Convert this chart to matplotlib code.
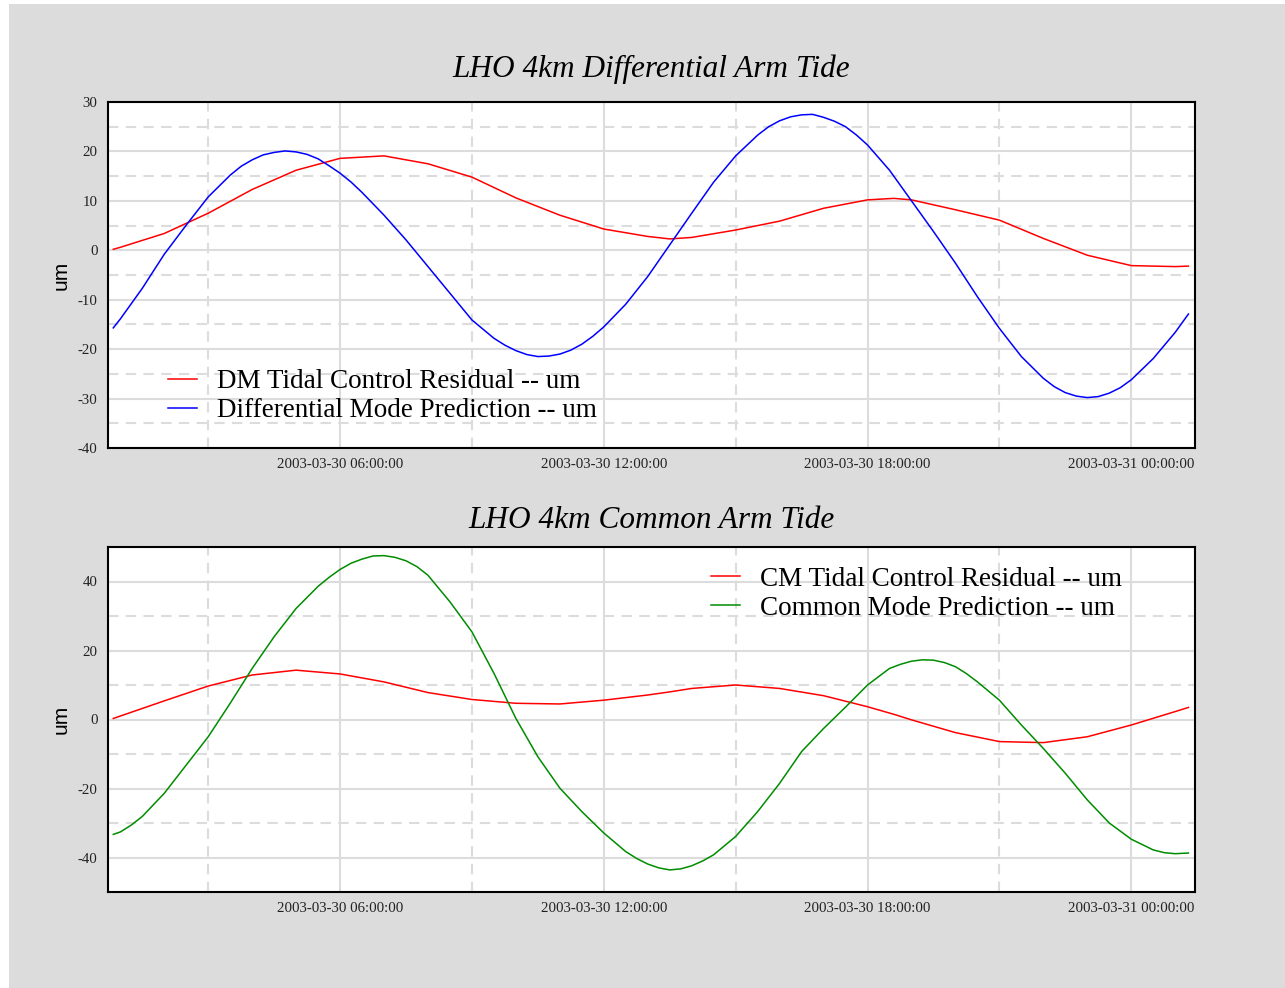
import datetime as dt

import matplotlib
matplotlib.use("Agg")
import matplotlib.pyplot as plt
import matplotlib.dates as mdates
from matplotlib.patches import Rectangle

plt.rcParams["axes.unicode_minus"] = False

# time axis: hours after 2003-03-30 00:00
t0 = dt.datetime(2003, 3, 30, 0, 0, 0)

hours_dm_pred = [0.84, 1.0, 1.5, 2.0, 2.5, 3.0, 3.5, 3.75, 4.0, 4.25, 4.5, 4.75, 5.0,
                 5.25, 5.5, 5.75, 6.0, 6.25, 6.5, 7.0, 7.5, 8.0, 8.5, 9.0, 9.5, 9.75,
                 10.0, 10.25, 10.5, 10.75, 11.0, 11.25, 11.5, 11.75, 12.0, 12.5,
                 13.0, 13.5, 14.0, 14.5, 15.0, 15.5, 15.75, 16.0, 16.25, 16.5,
                 16.75, 17.0, 17.25, 17.5, 17.75, 18.0, 18.5, 19.0, 19.5, 20.0,
                 20.5, 21.0, 21.5, 22.0, 22.25, 22.5, 22.75, 23.0, 23.25, 23.5,
                 23.75, 24.0, 24.5, 25.0, 25.3]
dm_pred = [-15.7, -13.9, -7.7, -0.8, 5.1, 10.8, 15.2, 17.0, 18.3, 19.3, 19.8, 20.1,
           19.9, 19.4, 18.5, 17.1, 15.6, 13.8, 11.7, 7.1, 2.1, -3.3, -8.7, -14.1,
           -17.8, -19.2, -20.3, -21.1, -21.5, -21.4, -21.0, -20.2, -19.0, -17.4,
           -15.5, -10.9, -5.3, 1.1, 7.5, 13.8, 19.1, 23.3, 25.0, 26.2, 27.0, 27.4,
           27.5, 26.9, 26.1, 25.0, 23.3, 21.3, 16.2, 10.0, 3.8, -2.6, -9.4, -15.8,
           -21.5, -25.9, -27.6, -28.8, -29.5, -29.8, -29.6, -28.9, -27.8, -26.2,
           -21.9, -16.6, -12.9]

hours_cm_pred = [0.84, 1.0, 1.25, 1.5, 2.0, 2.5, 3.0, 3.5, 4.0, 4.5, 5.0, 5.5, 5.75,
                 6.0, 6.25, 6.5, 6.75, 7.0, 7.25, 7.5, 7.75, 8.0, 8.5, 9.0, 9.5,
                 10.0, 10.5, 11.0, 11.5, 12.0, 12.5, 12.75, 13.0, 13.25, 13.5,
                 13.75, 14.0, 14.25, 14.5, 15.0, 15.5, 16.0, 16.5, 17.0, 17.5,
                 18.0, 18.5, 18.75, 19.0, 19.25, 19.5, 19.75, 20.0, 20.25, 20.5,
                 21.0, 21.5, 22.0, 22.5, 23.0, 23.5, 24.0, 24.5, 24.75, 25.0, 25.3]
cm_pred = [-33.3, -32.6, -30.6, -28.1, -21.4, -13.2, -5.0, 4.7, 14.8, 24.0, 32.2,
           38.6, 41.2, 43.5, 45.3, 46.5, 47.4, 47.5, 47.0, 46.0, 44.3, 41.8, 34.1,
           25.4, 13.4, 0.3, -10.8, -19.9, -26.7, -32.9, -38.3, -40.3, -41.9,
           -43.0, -43.6, -43.3, -42.4, -41.0, -39.2, -33.9, -26.7, -18.5, -9.3,
           -2.6, 3.6, 10.0, 14.8, 16.0, 16.9, 17.3, 17.2, 16.5, 15.3, 13.3, 10.9,
           5.6, -1.6, -8.4, -15.6, -23.3, -30.0, -34.7, -37.8, -38.6, -38.9, -38.7]

hours_res = [0.84, 1.0, 2.0, 3.0, 4.0, 5.0, 6.0, 7.0, 8.0, 9.0, 10.0, 11.0, 12.0,
             13.0, 13.5, 14.0, 15.0, 16.0, 17.0, 18.0, 18.6, 19.0, 20.0, 21.0,
             22.0, 23.0, 24.0, 25.0, 25.3]
dm_res = [0.2, 0.6, 3.4, 7.5, 12.3, 16.2, 18.6, 19.1, 17.5, 14.8, 10.6, 7.1, 4.3,
          2.8, 2.3, 2.6, 4.1, 5.9, 8.5, 10.2, 10.5, 10.2, 8.2, 6.1, 2.4, -1.0,
          -3.1, -3.3, -3.2]
cm_res = [0.3, 1.0, 5.4, 9.7, 12.9, 14.3, 13.2, 10.9, 7.8, 5.8, 4.7, 4.5, 5.6,
          7.1, 8.0, 9.0, 10.0, 9.0, 6.9, 3.7, 1.5, -0.1, -3.8, -6.4, -6.7, -5.0,
          -1.6, 2.3, 3.5]


def to_times(hours):
    return [t0 + dt.timedelta(hours=h) for h in hours]


x_lo = t0 + dt.timedelta(hours=0.72)
x_hi = t0 + dt.timedelta(hours=25.45)

W, H = 1285, 988
fig = plt.figure(figsize=(W / 100, H / 100), dpi=100, facecolor="white")
fig.patches.append(Rectangle((9 / W, 0), 1, (H - 4) / H, transform=fig.transFigure,
                             facecolor="#dcdcdc", edgecolor="none", zorder=-10))

grid_c = "#dcdcdc"
serif = "Liberation Serif"


def style_axes(ax, title, title_pad, ylim, major, minor):
    ax.set_facecolor("white")
    ax.set_xlim(x_lo, x_hi)
    ax.set_ylim(*ylim)
    ax.xaxis.set_major_locator(mdates.HourLocator(byhour=[0, 6, 12, 18]))
    ax.xaxis.set_minor_locator(mdates.HourLocator(byhour=[3, 9, 15, 21]))
    ax.xaxis.set_major_formatter(mdates.DateFormatter("%Y-%m-%d %H:%M:%S"))
    ax.yaxis.set_major_locator(plt.MultipleLocator(major))
    ax.yaxis.set_minor_locator(plt.MultipleLocator(minor))
    ax.grid(which="major", color=grid_c, linewidth=1.5, linestyle="-")
    ax.grid(which="minor", color=grid_c, linewidth=1.5, linestyle=(0, (5, 3.5)))
    ax.set_axisbelow(True)
    ax.tick_params(which="both", length=0, labelsize=10.7, labelcolor="#222222")
    ax.tick_params(axis="x", pad=7.5)
    ax.tick_params(axis="y", pad=7.5)
    for lab in ax.get_xticklabels() + ax.get_yticklabels():
        lab.set_fontfamily(serif)
    for sp in ax.spines.values():
        sp.set_linewidth(1.5)
        sp.set_color("black")
    ax.set_title(title, fontfamily=serif, fontstyle="italic", fontsize=22.5,
                 pad=title_pad)
    ax.set_ylabel("um", fontfamily="Liberation Sans", fontsize=15)
    ax.yaxis.set_label_coords(-0.034, 0.5)


def add_legend(ax, anchor):
    ax.legend(loc="upper left", bbox_to_anchor=anchor, frameon=False,
              prop={"family": serif, "size": 19.5}, borderpad=0, borderaxespad=0,
              handlelength=1.07, handletextpad=0.74, labelspacing=0.15)


ax1 = fig.add_axes([108 / W, (H - 448) / H, 1087 / W, 346 / H])
ax1.plot(to_times(hours_res), dm_res, color="#ff0000", lw=1.1,
         label="DM Tidal Control Residual -- um")
ax1.plot(to_times(hours_dm_pred), dm_pred, color="#0000ff", lw=1.1,
         label="Differential Mode Prediction -- um")
style_axes(ax1, "LHO 4km Differential Arm Tide", 18, (-40, 30), 10, 5)
add_legend(ax1, (0.0552, 0.228))

ax2 = fig.add_axes([108 / W, (H - 892) / H, 1087 / W, 345 / H])
ax2.plot(to_times(hours_res), cm_res, color="#ff0000", lw=1.1,
         label="CM Tidal Control Residual -- um")
ax2.plot(to_times(hours_cm_pred), cm_pred, color="#008c00", lw=1.1,
         label="Common Mode Prediction -- um")
style_axes(ax2, "LHO 4km Common Arm Tide", 14, (-50, 50), 20, 10)
add_legend(ax2, (0.5547, 0.943))

fig.savefig("out.png", dpi=100, facecolor=fig.get_facecolor())
